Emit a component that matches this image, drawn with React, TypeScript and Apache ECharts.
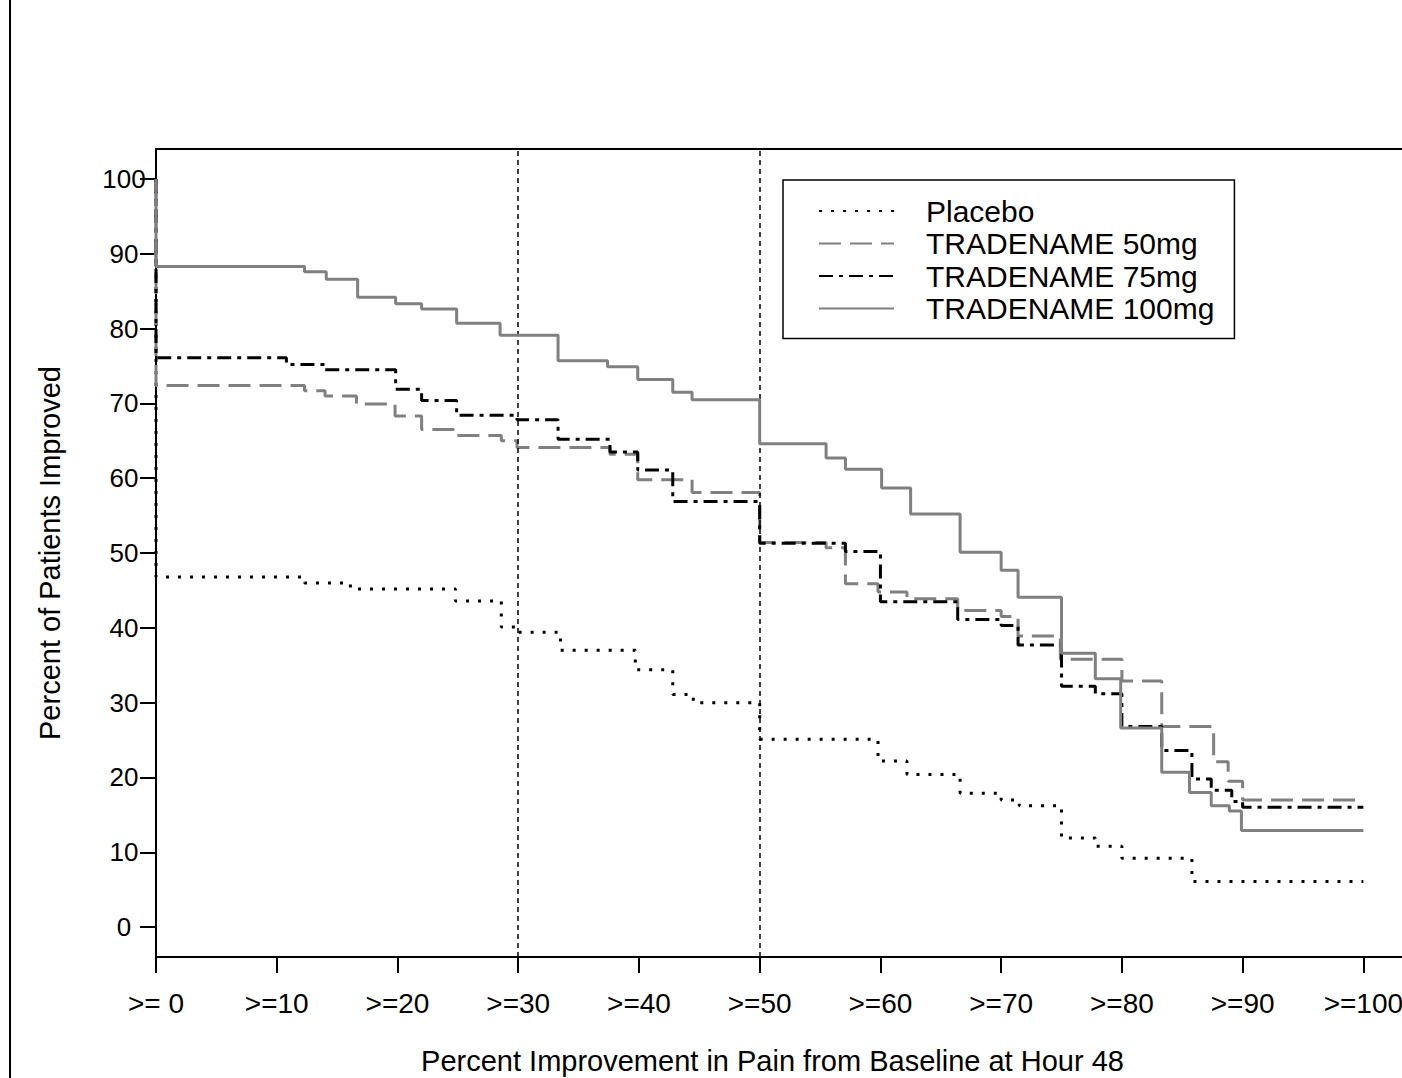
import React, { useEffect, useRef } from 'react';
import * as echarts from 'echarts';

const seriesNames = ['Placebo', 'TRADENAME 50mg', 'TRADENAME 75mg', 'TRADENAME 100mg'];

const xTickValues = [0, 10, 20, 30, 40, 50, 60, 70, 80, 90, 100];
const xTickLabels = ['>= 0', '>=10', '>=20', '>=30', '>=40', '>=50', '>=60', '>=70', '>=80', '>=90', '>=100'];
const yTickValues = [0, 10, 20, 30, 40, 50, 60, 70, 80, 90, 100];
const refLines = [30, 50];

const xTitle = 'Percent Improvement in Pain from Baseline at Hour 48';
const yTitle = 'Percent of Patients Improved';

// step breakpoints (x where a level begins) and the level held from there
const placeboX = [0, 0, 12.3, 16.1, 24.8, 28.6, 30.0, 33.5, 39.7, 42.8, 44.5, 50.0, 59.8, 62.2, 66.6, 70.0, 71.5, 75.0, 77.8, 80.0, 85.8, 100];
const placeboY = [100, 46.8, 46.0, 45.2, 43.6, 40.1, 39.4, 37.0, 34.4, 31.1, 30.0, 25.1, 22.2, 20.4, 17.9, 17.0, 16.2, 11.9, 10.8, 9.2, 6.1, 6.1];

const dose50X = [0, 0, 12.3, 14.0, 16.6, 19.8, 22.0, 24.8, 28.6, 29.9, 37.6, 39.9, 44.4, 50.0, 55.5, 57.1, 59.8, 62.2, 66.4, 70.0, 71.4, 74.9, 80.0, 83.3, 87.6, 88.8, 90.0, 100];
const dose50Y = [100, 72.4, 71.7, 71.0, 69.9, 68.3, 66.5, 65.7, 65.0, 64.1, 63.2, 59.8, 58.1, 51.4, 50.7, 45.9, 44.8, 43.9, 42.3, 41.5, 38.9, 35.8, 32.9, 26.8, 22.1, 19.5, 17.0, 17.0];

const dose75X = [0, 0, 10.8, 14.0, 19.85, 22.0, 24.9, 29.9, 33.3, 37.6, 39.9, 42.8, 50.0, 57.1, 60.0, 66.4, 70.0, 71.4, 75.0, 77.8, 80.0, 83.3, 85.8, 87.4, 89.1, 90.0, 100];
const dose75Y = [100, 76.1, 75.2, 74.5, 71.9, 70.4, 68.4, 67.8, 65.2, 63.5, 61.1, 56.9, 51.3, 50.2, 43.5, 41.1, 40.3, 37.7, 32.2, 31.2, 26.8, 23.6, 19.8, 18.3, 16.8, 16.0, 16.0];

const dose100X = [0, 0, 12.3, 14.1, 16.7, 19.85, 22.0, 24.9, 28.5, 33.3, 37.4, 39.9, 42.8, 44.4, 50.0, 55.5, 57.1, 60.1, 62.5, 66.6, 70.0, 71.4, 75.0, 77.8, 79.9, 83.3, 85.6, 87.4, 88.9, 89.9, 100];
const dose100Y = [100, 88.3, 87.6, 86.6, 84.2, 83.3, 82.6, 80.7, 79.1, 75.7, 74.9, 73.2, 71.5, 70.5, 64.6, 62.7, 61.2, 58.7, 55.2, 50.1, 47.7, 44.1, 36.6, 33.2, 26.6, 20.7, 18.0, 16.2, 15.5, 12.9, 12.9];

const FONT = 'Liberation Sans, Arial, sans-serif';
const GRAY = '#808080';
const X_MAX = 103.2;

const pairs = (xs: number[], ys: number[]) => xs.map((x, i) => [x, ys[i]]);

export default function App() {
  const ref = useRef<HTMLDivElement>(null);

  useEffect(() => {
    if (!ref.current) return;
    const chart = echarts.init(ref.current, null, { renderer: 'svg' });

    const lineSeries = (name: string, data: number[][], lineStyle: any, z: number, extra: any = {}) => ({
      name,
      type: 'line',
      step: 'end',
      symbol: 'none',
      showSymbol: false,
      silent: true,
      z,
      data,
      lineStyle: { width: 3, cap: 'butt', ...lineStyle },
      emphasis: { disabled: true },
      ...extra,
    });

    chart.setOption({
      animation: false,
      backgroundColor: '#fff',
      textStyle: { fontFamily: FONT, color: '#000' },
      graphic: [
        { type: 'rect', shape: { x: 9, y: 0, width: 2, height: 1078 }, style: { fill: '#000' }, silent: true },
      ],
      grid: {
        left: 156,
        top: 149,
        right: 0,
        bottom: 121,
        show: false,
        containLabel: false,
        outerBoundsMode: 'none',
      },
      legend: {
        orient: 'vertical',
        left: 783,
        top: 180,
        data: seriesNames,
        itemWidth: 75,
        itemHeight: 14,
        itemGap: 2.5,
        padding: [16, 20, 15, 35],
        borderColor: '#000',
        borderWidth: 1.5,
        backgroundColor: '#fff',
        selectedMode: false,
        itemStyle: { opacity: 0, color: 'transparent', borderWidth: 0 },
        textStyle: { fontFamily: FONT, fontSize: 30, color: '#000', lineHeight: 30, padding: [0, 0, 0, 27] },
      },
      xAxis: [
        {
          type: 'value',
          position: 'bottom',
          min: 0,
          max: X_MAX,
          name: xTitle,
          nameLocation: 'middle',
          nameGap: 89,
          nameTextStyle: { fontFamily: FONT, fontSize: 29, color: '#000', padding: [0, 13, 0, 0] },
          axisLine: { show: true, onZero: false, lineStyle: { color: '#000', width: 2 } },
          axisTick: { show: true, length: 16, lineStyle: { color: '#000', width: 2 }, customValues: xTickValues },
          axisLabel: {
            customValues: xTickValues,
            margin: 32,
            fontFamily: FONT,
            fontSize: 28,
            color: '#000',
            formatter: (v: number) => {
              const i = xTickValues.indexOf(Math.round(v));
              return i >= 0 ? xTickLabels[i] : '';
            },
          },
          splitLine: { show: false },
        },
        {
          type: 'value',
          position: 'top',
          min: 0,
          max: X_MAX,
          axisLine: { show: true, onZero: false, lineStyle: { color: '#000', width: 2 } },
          axisTick: { show: false },
          axisLabel: { show: false },
          splitLine: { show: false },
        },
      ],
      yAxis: {
        type: 'value',
        min: -4,
        max: 104,
        name: yTitle,
        nameLocation: 'middle',
        nameGap: 92,
        nameTextStyle: { fontFamily: FONT, fontSize: 29, color: '#000' },
        axisLine: { show: true, onZero: false, lineStyle: { color: '#000', width: 2 } },
        axisTick: { show: true, length: 16, lineStyle: { color: '#000', width: 2 }, customValues: yTickValues },
        axisLabel: {
          customValues: yTickValues,
          margin: 32,
          align: 'center',
          fontFamily: FONT,
          fontSize: 26,
          color: '#000',
        },
        splitLine: { show: false },
      },
      series: [
        lineSeries(seriesNames[0], pairs(placeboX, placeboY), { color: '#000', type: [3, 9] }, 3, {
          itemStyle: { color: '#000' },
          markLine: {
            silent: true,
            symbol: ['none', 'none'],
            label: { show: false },
            lineStyle: { color: '#000', type: [5, 4], width: 1.5 },
            data: refLines.map((v) => ({ xAxis: v })),
          },
        }),
        lineSeries(seriesNames[1], pairs(dose50X, dose50Y), { color: GRAY, type: [22, 9] }, 4, { itemStyle: { color: GRAY } }),
        lineSeries(seriesNames[2], pairs(dose75X, dose75Y), { color: '#000', type: [14, 6, 4, 6] }, 5, { itemStyle: { color: '#000' } }),
        lineSeries(seriesNames[3], pairs(dose100X, dose100Y), { color: GRAY, type: 'solid' }, 6, { itemStyle: { color: GRAY } }),
      ],
    });

    return () => chart.dispose();
  }, []);

  return (
    <div
      ref={ref}
      style={{ position: 'absolute', left: 0, top: 0, width: 1402, height: 1078, background: '#fff' }}
    />
  );
}
